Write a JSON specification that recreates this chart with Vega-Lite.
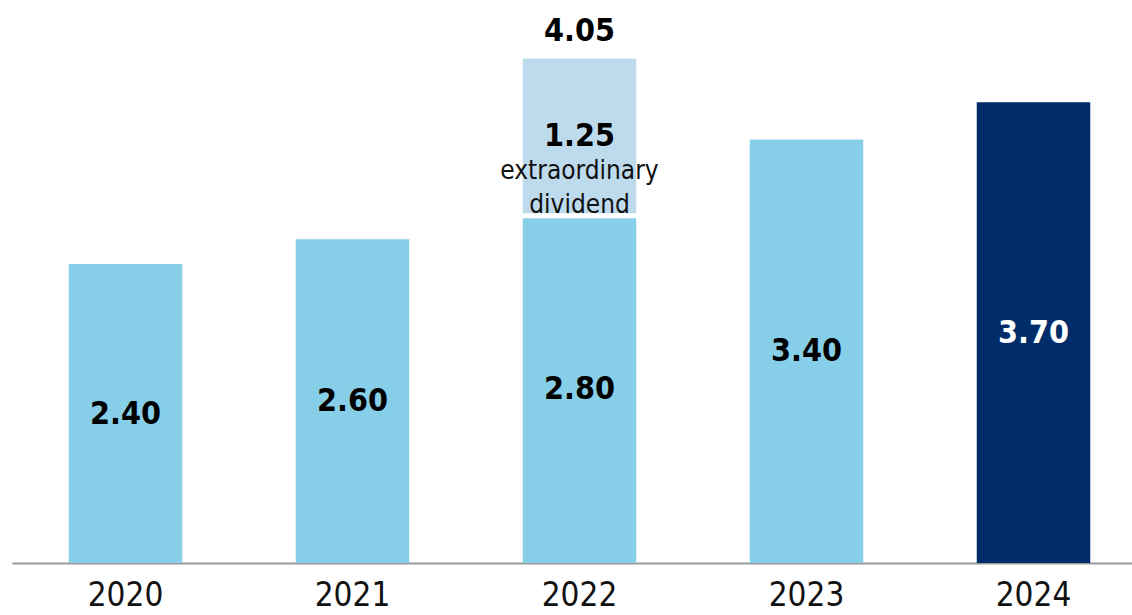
{
  "$schema": "https://vega.github.io/schema/vega-lite/v6.json",
  "width": 1135,
  "height": 563,
  "autosize": {"type": "none"},
  "padding": {"left": 12, "top": 0, "right": 0, "bottom": 52},
  "background": "white",
  "config": {"view": {"stroke": null}, "font": "DejaVu Sans Condensed"},
  "datasets": {
    "main": [
      {"year": "2020", "value": 2.40, "label": "2.40"},
      {"year": "2021", "value": 2.60, "label": "2.60"},
      {"year": "2022", "value": 2.80, "label": "2.80"},
      {"year": "2023", "value": 3.40, "label": "3.40"},
      {"year": "2024", "value": 3.70, "label": "3.70"}
    ],
    "extra": [
      {"year": "2022", "start": 2.80, "end": 4.05, "label": "1.25", "total": "4.05", "note": ["extraordinary", "dividend"]}
    ]
  },
  "encoding": {
    "x": {
      "field": "year", "type": "nominal", "sort": null,
      "scale": {"domain": ["2020", "2021", "2022", "2023", "2024"], "paddingInner": 0.5, "paddingOuter": 0.25},
      "axis": {
        "title": null, "labelAngle": 0, "ticks": false, "domainColor": "#9a9a9a", "domainWidth": 2,
        "labelFontSize": 33, "labelColor": "#111111", "labelPadding": 16, "labelFont": "DejaVu Sans Condensed"
      }
    }
  },
  "layer": [
    {
      "data": {"name": "main"},
      "mark": {"type": "bar"},
      "encoding": {
        "y": {"field": "value", "type": "quantitative", "scale": {"domain": [0, 4.52], "nice": false, "zero": true}, "axis": null},
        "color": {
          "condition": {"test": "datum.year === '2024'", "value": "#002d6a"},
          "value": "#87cfe8"
        }
      }
    },
    {
      "data": {"name": "extra"},
      "mark": {"type": "bar", "color": "#bedbee"},
      "encoding": {
        "y": {"field": "start", "type": "quantitative"},
        "y2": {"field": "end"}
      }
    },
    {
      "data": {"name": "extra"},
      "mark": {"type": "tick", "orient": "horizontal", "color": "white", "thickness": 5, "size": 130, "opacity": 1, "yOffset": 1.5},
      "encoding": {
        "y": {"field": "start", "type": "quantitative"}
      }
    },
    {
      "data": {"name": "main"},
      "transform": [{"calculate": "datum.value / 2", "as": "mid"}],
      "mark": {"type": "text", "fontSize": 32, "fontWeight": "bold", "baseline": "middle"},
      "encoding": {
        "y": {"field": "mid", "type": "quantitative"},
        "text": {"field": "label"},
        "color": {
          "condition": {"test": "datum.year === '2024'", "value": "white"},
          "value": "black"
        }
      }
    },
    {
      "data": {"name": "extra"},
      "transform": [{"calculate": "(datum.start + datum.end) / 2", "as": "mid"}],
      "mark": {"type": "text", "fontSize": 32, "fontWeight": "bold", "baseline": "middle", "color": "black"},
      "encoding": {
        "y": {"field": "mid", "type": "quantitative"},
        "text": {"field": "label"}
      }
    },
    {
      "data": {"name": "extra"},
      "transform": [{"calculate": "(datum.start + datum.end) / 2", "as": "mid"}],
      "mark": {"type": "text", "fontSize": 26, "baseline": "top", "dy": 22, "lineHeight": 34, "color": "#111111"},
      "encoding": {
        "y": {"field": "mid", "type": "quantitative"},
        "text": {"field": "note"}
      }
    },
    {
      "data": {"name": "extra"},
      "mark": {"type": "text", "fontSize": 32, "fontWeight": "bold", "baseline": "middle", "dy": -28, "color": "black"},
      "encoding": {
        "y": {"field": "end", "type": "quantitative"},
        "text": {"field": "total"}
      }
    }
  ]
}
